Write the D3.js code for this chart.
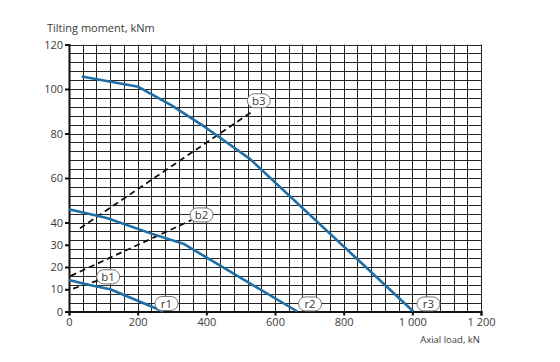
<!DOCTYPE html>
<html lang="en">
<head>
<meta charset="UTF-8">
<title>Tilting moment vs axial load</title>
<style>
    body { margin: 0; background: #fff; }
    svg text { font-family: "Open Sans", "Noto Sans", sans-serif; fill: #3a3a3a; }
</style>
</head>
<body>
<script src="https://d3js.org/d3.v7.min.js"></script>
<script>
    // axis ticks
    let xTicks = [0, 200, 400, 600, 800, 1000, 1200];
    let yTicks = [0, 10, 20, 30, 40, 60, 80, 100, 120];

    // rating curves (axial load kN, tilting moment kNm)
    let r1 = [[0, 14.2], [56, 12], [120, 10], [275, 0]];
    let r2 = [[0, 46], [110, 42], [240, 35], [333, 30.5], [665, 0]];
    let r3 = [[37, 105.6], [202, 101], [300, 92.5], [400, 82.5], [527, 68.6], [1003, 0]];

    // bolt curves (dashed)
    let b1 = [[12, 10.3], [90, 14.2]];
    let b2 = [[5, 16], [357, 41.1]];
    let b3 = [[32, 37.4], [537, 90.2]];

    // label anchors
    let labels = [
        { t: 'r1', x: 284, y: 3.6 },
        { t: 'r2', x: 702, y: 3.4 },
        { t: 'r3', x: 1047, y: 3.4 },
        { t: 'b1', x: 114, y: 15.6 },
        { t: 'b2', x: 386, y: 43.4 },
        { t: 'b3', x: 553, y: 94.7 }
    ];

    let W = 560, H = 362;
    let s = d3.select('body').append('svg')
        .attr('width', W)
        .attr('height', H);

    let x = d3.scaleLinear().domain([0, 1200]).range([69, 481]);
    let y = d3.scaleLinear().domain([0, 120]).range([311.5, 44.5]);

    // grid
    let g = s.append('g').attr('class', 'grid');
    g.selectAll('.vl')
        .data(d3.range(0, 1201, 40))
        .enter().append('line')
        .attr('x1', d => Math.round(x(d)) + 0.5)
        .attr('x2', d => Math.round(x(d)) + 0.5)
        .attr('y1', y(0))
        .attr('y2', y(120))
        .attr('stroke', '#262626')
        .attr('stroke-width', 1);
    g.selectAll('.hl')
        .data(d3.range(0, 121, 4))
        .enter().append('line')
        .attr('y1', d => Math.round(y(d)) + 0.5)
        .attr('y2', d => Math.round(y(d)) + 0.5)
        .attr('x1', x(0))
        .attr('x2', x(1200))
        .attr('stroke', '#262626')
        .attr('stroke-width', 1);

    // axes
    let fmt = d3.formatLocale({ decimal: '.', thousands: ' ', grouping: [3], currency: ['', ''] }).format(',');

    let xa = s.append('g')
        .attr('transform', `translate(0,${y(0)})`)
        .call(d3.axisBottom(x).tickValues(xTicks).tickFormat(fmt).tickSize(4).tickPadding(3));
    let ya = s.append('g')
        .attr('transform', `translate(${x(0)},0)`)
        .call(d3.axisLeft(y).tickValues(yTicks).tickSize(4).tickPadding(2));

    [xa, ya].forEach(a => {
        a.select('.domain').attr('stroke', '#111').attr('stroke-width', 2);
        a.selectAll('.tick line').attr('stroke', '#111').attr('stroke-width', 2);
        a.selectAll('.tick text').style('font-size', '11px').style('fill', '#3a3a3a');
    });

    // titles
    s.append('text')
        .attr('x', 47).attr('y', 32)
        .style('font-size', '11px')
        .text('Tilting moment, kNm');
    s.append('text')
        .attr('x', 480).attr('y', 343)
        .attr('text-anchor', 'end')
        .style('font-size', '9.5px')
        .text('Axial load, kN');

    let line = d3.line().x(d => x(d[0])).y(d => y(d[1]));

    // dashed b lines
    [b1, b2, b3].forEach(b => {
        s.append('path')
            .attr('d', line(b))
            .attr('fill', 'none')
            .attr('stroke', '#111')
            .attr('stroke-width', 1.8)
            .attr('stroke-dasharray', '6,4');
    });

    // blue r curves
    [r1, r2, r3].forEach(r => {
        s.append('path')
            .attr('d', line(r))
            .attr('fill', 'none')
            .attr('stroke', '#1f6ea6')
            .attr('stroke-width', 2.6)
            .attr('stroke-linejoin', 'round');
    });

    // pill labels
    let lg = s.selectAll('.lbl')
        .data(labels)
        .enter().append('g')
        .attr('class', 'lbl')
        .attr('transform', d => `translate(${x(d.x)},${y(d.y)})`);
    lg.append('rect')
        .attr('x', -11.5).attr('y', -7)
        .attr('width', 23).attr('height', 14)
        .attr('rx', 7)
        .attr('fill', '#fff')
        .attr('stroke', '#777')
        .attr('stroke-width', 1);
    lg.append('text')
        .attr('text-anchor', 'middle')
        .attr('dy', '0.36em')
        .style('font-size', '11.5px')
        .text(d => d.t);
</script>
</body>
</html>
